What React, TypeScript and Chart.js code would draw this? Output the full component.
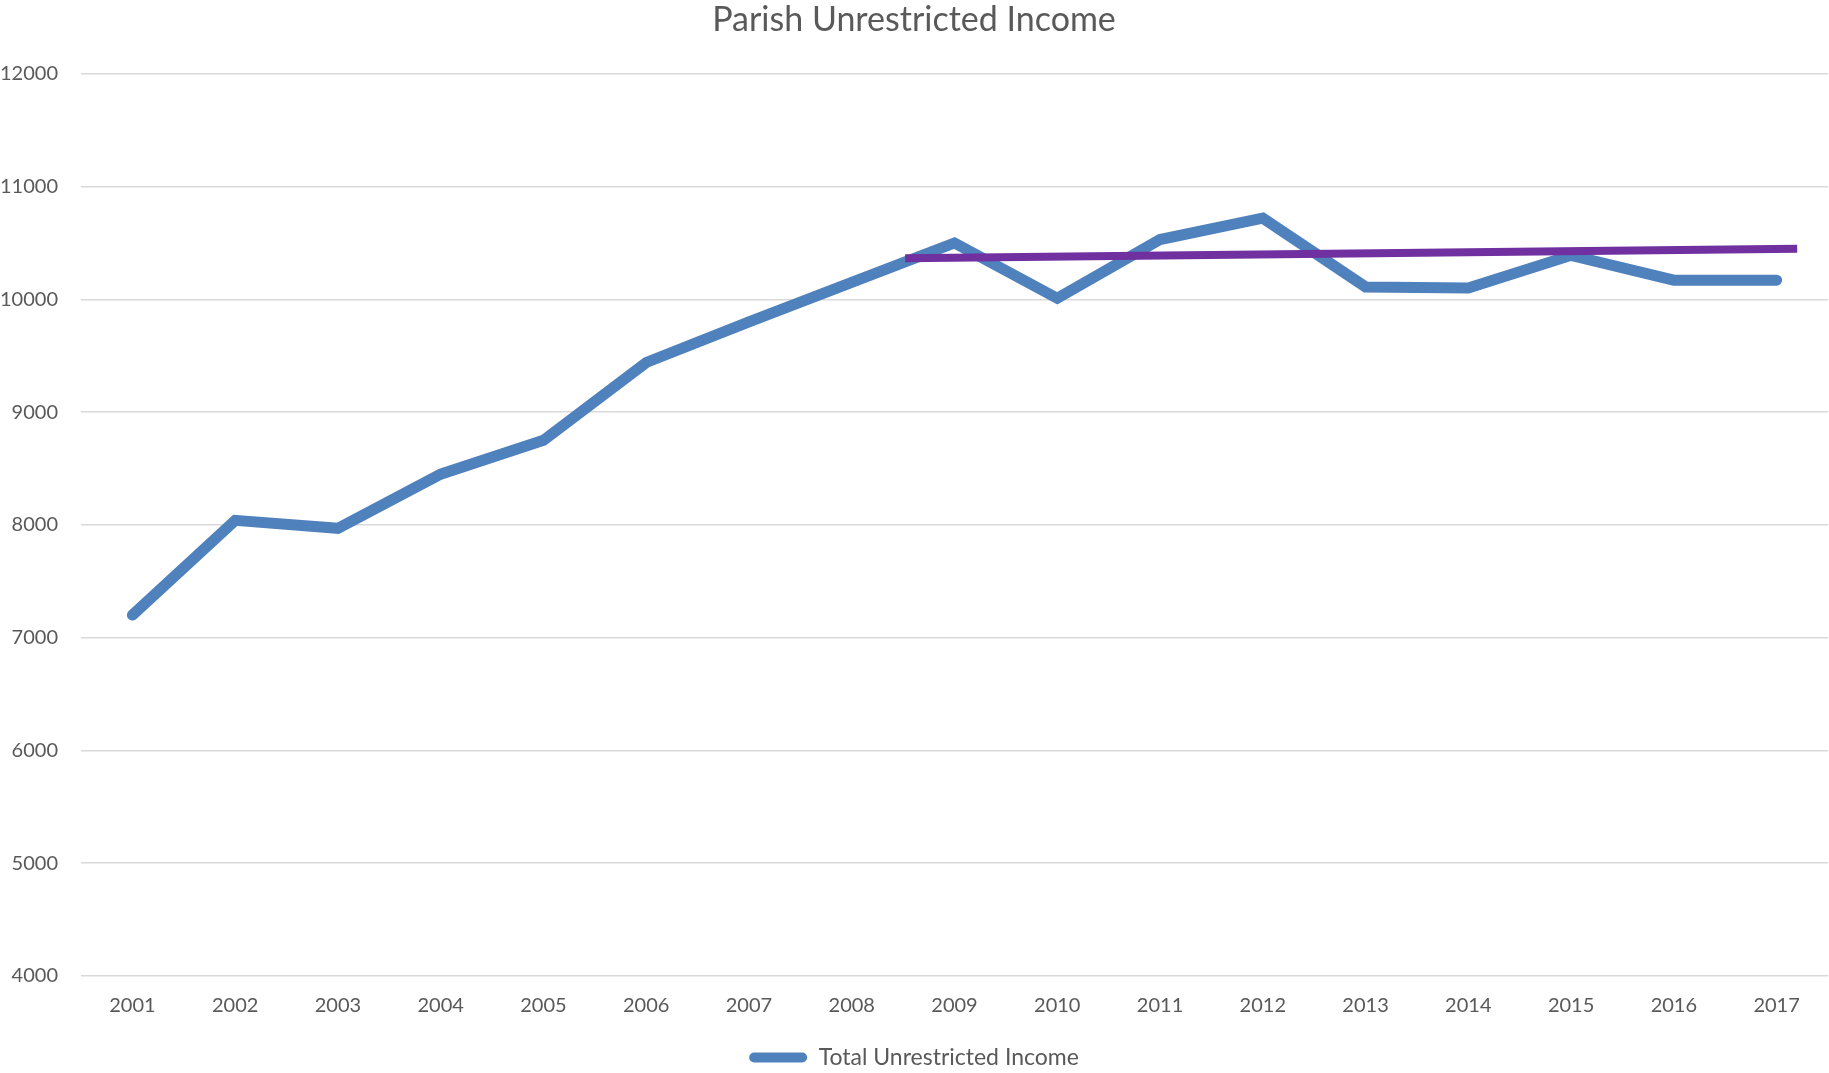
import React, { useEffect, useRef } from "react";
import { Chart, registerables } from "chart.js";

Chart.register(...registerables);

const years = ["2001","2002","2003","2004","2005","2006","2007","2008","2009","2010","2011","2012","2013","2014","2015","2016","2017"];
const totalIncome = [7200, 8040, 7970, 8450, 8750, 9440, 9800, 10150, 10500, 10010, 10530, 10720, 10110, 10100, 10390, 10170, 10170];
const trendX = [7.52, 16.2];
const trendY = [10365, 10449];
const yTicks = { min: 4000, max: 12000, step: 1000 };

const TEXT = "#595959";
const FONT = "Lato, 'Open Sans', sans-serif";

export default function App() {
  const ref = useRef<HTMLCanvasElement | null>(null);
  useEffect(() => {
    document.body.style.margin = "0";
    const canvas = ref.current!;
    const chart = new Chart(canvas, {
      type: "line",
      data: {
        labels: years,
        datasets: [
          {
            label: "Total Unrestricted Income",
            data: totalIncome,
            borderColor: "#4F81BD",
            backgroundColor: "#4F81BD",
            borderWidth: 11,
            borderCapStyle: "round",
            borderJoinStyle: "miter",
            pointRadius: 0,
            tension: 0,
            xAxisID: "x",
            order: 2,
          },
          {
            label: "trend",
            data: trendX.map((x, i) => ({ x, y: trendY[i] })),
            borderColor: "#7030A0",
            backgroundColor: "#7030A0",
            borderWidth: 8,
            borderCapStyle: "butt",
            pointRadius: 0,
            xAxisID: "xTrend",
            order: 1,
          },
        ],
      },
      options: {
        animation: false,
        responsive: false,
        layout: { padding: { left: 0, right: 1, top: 0, bottom: -6 } },
        plugins: {
          title: {
            display: true,
            text: "Parish Unrestricted Income",
            color: TEXT,
            font: { family: FONT, size: 34, weight: "normal" },
            padding: { top: 0, bottom: 33 },
          },
          legend: {
            position: "bottom",
            labels: {
              color: TEXT,
              font: { family: FONT, size: 23 },
              boxWidth: 58,
              boxHeight: 10,
              padding: 10,
              generateLabels: () => [
                {
                  text: "Total Unrestricted Income",
                  fillStyle: "#4F81BD",
                  strokeStyle: "#4F81BD",
                  lineWidth: 0,
                  borderRadius: 5,
                  datasetIndex: 0,
                  hidden: false,
                  fontColor: TEXT,
                } as any,
              ],
            },
          },
          tooltip: { enabled: false },
        },
        scales: {
          x: {
            type: "category",
            offset: true,
            grid: { display: false, drawTicks: false },
            border: { display: false },
            ticks: { color: TEXT, font: { family: FONT, size: 20 }, padding: 18, maxRotation: 0 },
          },
          xTrend: {
            type: "linear",
            display: false,
            min: -0.5,
            max: 16.5,
          },
          y: {
            min: yTicks.min,
            max: yTicks.max,
            grid: { color: "#D9D9D9", lineWidth: 1.5, drawTicks: false },
            border: { display: false },
            afterFit: (scale: any) => {
              scale.width = 81;
            },
            ticks: {
              stepSize: yTicks.step,
              color: TEXT,
              font: { family: FONT, size: 20 },
              padding: 23,
              callback: (v: any) => String(v),
            },
          },
        },
      },
    });
    return () => chart.destroy();
  }, []);
  return <canvas ref={ref} width={1829} height={1073} style={{ display: "block" }} />;
}
